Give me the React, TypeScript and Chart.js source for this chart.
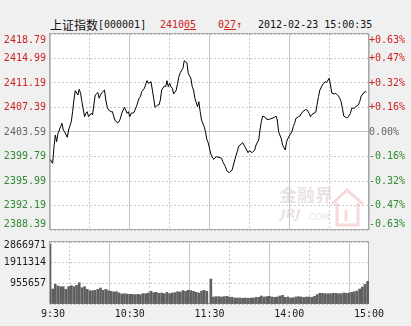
import React, { useEffect, useRef } from "react";
import { Chart, registerables } from "chart.js";

Chart.register(...registerables);

// ---------- data ----------
const priceTicks = [2418.79, 2414.99, 2411.19, 2407.39, 2403.59, 2399.79, 2395.99, 2392.19, 2388.39];
const priceTickLabels = ["2418.79", "2414.99", "2411.19", "2407.39", "2403.59", "2399.79", "2395.99", "2392.19", "2388.39"];
const pctTickLabels = ["+0.63%", "+0.47%", "+0.32%", "+0.16%", "0.00%", "-0.16%", "-0.32%", "-0.47%", "-0.63%"];
const prevClose = 2403.59;

const gridMinutes = [0, 30, 60, 90, 120, 150, 180, 210, 240];
const timeTickMinutes = [0, 60, 120, 180, 240];
const timeLabels = ["9:30", "10:30", "11:30", "14:00", "15:00"];

const volTicks = [0, 955657, 1911314, 2866971];
const volTickLabels = ["", "955657", "1911314", "2866971"];

// minutes since 9:30 (lunch break removed)
const priceMinutes = [
  0, 2, 3, 4, 5, 6, 8, 9, 10, 11,
  13, 14, 16, 17, 18, 19, 21, 22, 23, 24,
  26, 27, 28, 29, 31, 32, 33, 34, 36, 37,
  38, 39, 41, 42, 43, 44, 46, 47, 48, 49,
  51, 52, 53, 54, 56, 57, 58, 59, 60, 61,
  63, 65, 67, 68, 69, 71, 73, 74, 76, 77,
  78, 79, 81, 82, 83, 84, 86, 87, 88, 89,
  90, 91, 92, 93, 95, 96, 97, 98, 100, 101,
  102, 103, 104, 106, 107, 108, 109, 111, 112, 113,
  114, 116, 117, 118, 119, 121, 123, 124, 125, 127,
  129, 130, 132, 133, 135, 137, 139, 141, 142, 145,
  147, 149, 150, 152, 154, 155, 157, 158, 159, 160,
  162, 163, 165, 167, 169, 170, 171, 172, 174, 175,
  177, 178, 179, 180, 182, 183, 184, 185, 187, 188,
  190, 192, 193, 195, 196, 197, 200, 201, 202, 203,
  205, 206, 207, 208, 210, 211, 212, 214, 215, 217,
  218, 219, 220, 221, 223, 224, 226, 227, 229, 230,
  232, 233, 234, 236, 238,
];
const prices = [
  2399.36, 2398.73, 2401.31, 2403.12, 2402.09, 2403.39, 2404.41, 2404.94, 2403.90, 2403.64,
  2402.77, 2403.90, 2405.19, 2406.74, 2408.55, 2410.00, 2409.33, 2410.21, 2409.59, 2408.29,
  2405.96, 2406.49, 2406.74, 2405.96, 2406.49, 2406.23, 2407.78, 2409.33, 2409.69, 2408.82,
  2409.33, 2409.69, 2410.10, 2408.55, 2407.51, 2407.00, 2406.74, 2406.74, 2405.96, 2405.34,
  2405.03, 2405.19, 2405.71, 2406.49, 2407.42, 2407.00, 2406.49, 2406.74, 2405.96, 2406.49,
  2406.58, 2407.51, 2408.82, 2409.07, 2409.84, 2410.37, 2411.55, 2411.14, 2411.39, 2410.10,
  2408.82, 2407.42, 2407.78, 2407.78, 2408.55, 2410.10, 2410.72, 2410.62, 2411.55, 2410.62,
  2411.14, 2410.62, 2410.37, 2409.49, 2410.10, 2411.14, 2412.17, 2412.79, 2413.47, 2414.65,
  2414.49, 2414.34, 2412.69, 2411.92, 2410.62, 2410.10, 2408.82, 2407.51, 2408.29, 2406.74,
  2405.45, 2404.41, 2403.64, 2402.46, 2401.93, 2400.18, 2399.36, 2399.51, 2399.76, 2399.66,
  2399.55, 2398.98, 2398.20, 2397.58, 2397.27, 2397.70, 2399.25, 2400.67, 2401.39, 2401.93,
  2401.18, 2400.38, 2400.69, 2400.38, 2400.80, 2401.57, 2402.35, 2403.90, 2405.19, 2406.07,
  2405.87, 2405.56, 2405.56, 2405.71, 2405.87, 2406.07, 2405.45, 2403.64, 2402.54, 2401.57,
  2400.80, 2402.09, 2402.58, 2402.97, 2403.64, 2404.41, 2404.91, 2405.71, 2405.96, 2406.07,
  2406.74, 2407.00, 2407.11, 2406.49, 2405.96, 2406.30, 2406.69, 2407.92, 2409.07, 2410.10,
  2410.88, 2411.14, 2411.39, 2411.26, 2411.92, 2410.88, 2409.64, 2409.49, 2409.59, 2409.17,
  2408.82, 2408.29, 2407.27, 2406.07, 2405.81, 2405.81, 2406.49, 2407.27, 2407.31, 2407.50,
  2407.78, 2408.29, 2409.10, 2409.69, 2409.88,
];

// volume, one bar per two minutes
const volMorning = [
  2775000, 693600, 909000, 832000, 801000, 801000, 678000, 801000, 848000, 801000,
  863000, 986000, 755000, 801000, 678000, 617000, 617000, 632000, 678000, 740000,
  632000, 678000, 617000, 586000, 555000, 570000, 509000, 462000, 478000, 462000,
  447000, 447000, 432000, 447000, 432000, 478000, 478000, 509000, 586000, 524000,
  539000, 493000, 509000, 478000, 539000, 478000, 509000, 524000, 570000, 555000,
  617000, 586000, 632000, 617000, 586000, 539000, 509000, 601000, 632000, 586000,
];
const volAfternoon = [
  1156000, 324000, 339000, 339000, 324000, 339000, 355000, 324000, 308000, 277000,
  277000, 277000, 262000, 277000, 262000, 277000, 277000, 308000, 308000, 370000,
  324000, 339000, 355000, 324000, 308000, 324000, 370000, 401000, 308000, 324000,
  277000, 293000, 324000, 339000, 324000, 308000, 324000, 324000, 308000, 355000,
  432000, 493000, 493000, 478000, 478000, 478000, 493000, 493000, 478000, 478000,
  509000, 493000, 509000, 539000, 570000, 601000, 694000, 786000, 909000, 1050000,
];

// ---------- styles ----------
const MONO = "'DejaVu Sans Mono', monospace";
const RED = "#cc2222";
const GREEN = "#2f8a2f";
const GRAY = "#666666";
const GRID_SOLID = "#c4c4c4";
const GRID_DASH = "#c8c8c8";
const BORDER = "#a9a9a9";

const plotFrame = {
  id: "plotFrame",
  beforeDraw(chart: any) {
    const { ctx, chartArea: a } = chart;
    ctx.save();
    ctx.fillStyle = "#ffffff";
    ctx.fillRect(a.left, a.top, a.right - a.left, a.bottom - a.top);
    ctx.restore();
  },
  beforeDatasetsDraw(chart: any, _args: any, opts: any) {
    const { ctx, chartArea: a } = chart;
    ctx.save();
    if (opts && opts.watermark) {
      // JRJ watermark
      ctx.fillStyle = "rgba(215,200,200,0.5)";
      ctx.font = "bold 18px 'Noto Sans CJK SC'";
      ctx.textBaseline = "middle";
      ctx.textAlign = "left";
      ctx.fillText("金融界", 279, 195);
      ctx.font = "italic bold 13px 'DejaVu Sans'";
      ctx.fillText("JRJ", 281, 215);
      ctx.font = "italic 9px 'DejaVu Sans'";
      ctx.fillText(".COM", 306, 218);
      ctx.strokeStyle = "rgba(240,185,185,0.55)";
      ctx.lineWidth = 3;
      ctx.beginPath();
      ctx.moveTo(332, 204);
      ctx.lineTo(347, 190);
      ctx.lineTo(363, 204);
      ctx.moveTo(337, 203);
      ctx.lineTo(337, 225);
      ctx.lineTo(358, 225);
      ctx.lineTo(358, 203);
      ctx.moveTo(346, 210);
      ctx.lineTo(346, 221);
      ctx.stroke();
    }
    ctx.strokeStyle = BORDER;
    ctx.lineWidth = 1;
    ctx.strokeRect(Math.round(a.left) - 0.5, Math.round(a.top) - 0.5, Math.round(a.right - a.left), Math.round(a.bottom - a.top));
    ctx.restore();
  },
};

function xGridDash(ctx: any) {
  const v = ctx.tick ? ctx.tick.value : 0;
  return v % 60 === 0 ? [] : [2, 2];
}
function xGridColor(ctx: any) {
  const v = ctx.tick ? ctx.tick.value : 0;
  return v % 60 === 0 ? GRID_SOLID : GRID_DASH;
}

function priceColor(i: number) {
  const v = priceTicks[i];
  if (Math.abs(v - prevClose) < 1e-6) return GRAY;
  return v > prevClose ? RED : GREEN;
}

const fitV = (w: number) => (s: any) => {
  s.width = w;
  s.paddingTop = 0;
  s.paddingBottom = 0;
};
const fitH = (h: number) => (s: any) => {
  s.height = h;
  s.paddingLeft = 0;
  s.paddingRight = 0;
};

export default function App() {
  const priceRef = useRef<HTMLCanvasElement>(null);
  const volRef = useRef<HTMLCanvasElement>(null);

  useEffect(() => {
    const last = priceTicks.length - 1;
    const priceChart = new Chart(priceRef.current as HTMLCanvasElement, {
      type: "line",
      data: {
        datasets: [
          {
            data: priceMinutes.map((m, i) => ({ x: m, y: prices[i] })),
            borderColor: "#000000",
            borderWidth: 1,
            pointRadius: 0,
            tension: 0,
            fill: false,
            yAxisID: "y",
          },
        ],
      },
      options: {
        animation: false,
        responsive: false,
        devicePixelRatio: 1,
        layout: { padding: { top: 34, left: 0, right: 0, bottom: 0 } },
        plugins: { legend: { display: false }, tooltip: { enabled: false }, plotFrame: { watermark: true } } as any,
        scales: {
          x: {
            type: "linear",
            min: 0,
            max: 240,
            afterBuildTicks: (s: any) => {
              s.ticks = gridMinutes.map((v) => ({ value: v }));
            },
            afterFit: fitH(10),
            ticks: { display: false },
            grid: { color: xGridColor, drawTicks: false, lineWidth: 1 },
            border: { display: false, dash: xGridDash },
          },
          y: {
            position: "left",
            min: 2388.39,
            max: 2418.79,
            afterBuildTicks: (s: any) => {
              s.ticks = priceTicks.map((v) => ({ value: v }));
            },
            afterFit: fitV(50),
            ticks: {
              autoSkip: false,
              padding: 4,
              font: { family: MONO, size: 10 },
              color: (c: any) => priceColor(c.index),
              callback: (_v: any, i: number) =>
                i === 0 ? ["", priceTickLabels[i]] : i === last ? [priceTickLabels[i], ""] : priceTickLabels[i],
            },
            grid: {
              drawTicks: false,
              color: (c: any) => (c.index === 4 ? GRID_SOLID : GRID_DASH),
            },
            border: { display: false, dash: (c: any) => (c.index === 4 ? [] : [2, 2]) },
          },
          y2: {
            position: "right",
            min: 2388.39,
            max: 2418.79,
            afterBuildTicks: (s: any) => {
              s.ticks = priceTicks.map((v) => ({ value: v }));
            },
            afterFit: fitV(42),
            ticks: {
              autoSkip: false,
              padding: 0,
              font: { family: MONO, size: 10 },
              color: (c: any) => priceColor(c.index),
              callback: (_v: any, i: number) =>
                i === 0 ? ["", pctTickLabels[i]] : i === last ? [pctTickLabels[i], ""] : pctTickLabels[i],
            },
            grid: { display: false, drawTicks: false },
            border: { display: false },
          },
        },
      } as any,
      plugins: [plotFrame],
    });

    const volTimes = [
      ...volMorning.map((_, i) => i * 2),
      ...volAfternoon.map((_, i) => 121 + i * 2),
    ];
    const vols = [...volMorning, ...volAfternoon];

    const volChart = new Chart(volRef.current as HTMLCanvasElement, {
      type: "bar",
      data: {
        datasets: [
          {
            data: volTimes.map((m, i) => ({ x: m, y: vols[i] })),
            backgroundColor: "#5f5f5f",
            borderWidth: 0,
            barThickness: 2,
          },
        ],
      },
      options: {
        animation: false,
        responsive: false,
        devicePixelRatio: 1,
        layout: { padding: { top: 6, left: 0, right: 42, bottom: 0 } },
        plugins: { legend: { display: false }, tooltip: { enabled: false }, plotFrame: { watermark: false } } as any,
        scales: {
          x: {
            type: "linear",
            min: 0,
            max: 240,
            offset: false,
            afterBuildTicks: (s: any) => {
              s.ticks = gridMinutes.map((v) => ({ value: v }));
            },
            afterFit: fitH(22),
            ticks: {
              autoSkip: false,
              maxRotation: 0,
              padding: 4,
              font: { family: MONO, size: 10 },
              color: "#1a1a1a",
              callback: (v: any) => {
                const k = timeTickMinutes.indexOf(v);
                return k >= 0 ? timeLabels[k].padStart(5, " ") : "";
              },
            },
            grid: { color: xGridColor, drawTicks: false },
            border: { display: false, dash: xGridDash },
          },
          y: {
            min: 0,
            max: 2866971,
            afterBuildTicks: (s: any) => {
              s.ticks = volTicks.map((v) => ({ value: v }));
            },
            afterFit: fitV(50),
            ticks: {
              autoSkip: false,
              padding: 4,
              font: (c: any) => ({ family: MONO, size: 10, lineHeight: c.index === 3 ? 0.6 : 1.2 }),
              color: "#1a1a1a",
              callback: (_v: any, i: number) => (i === 3 ? ["", volTickLabels[i]] : volTickLabels[i]),
            },
            grid: { drawTicks: false, color: GRID_DASH },
            border: { display: false, dash: [2, 2] },
          },
        },
      } as any,
      plugins: [plotFrame],
    });

    return () => {
      priceChart.destroy();
      volChart.destroy();
    };
  }, []);

  const base: React.CSSProperties = {
    position: "absolute",
    top: 19,
    height: 12,
    lineHeight: "12px",
    fontFamily: MONO,
    fontSize: 10,
    whiteSpace: "pre",
  };

  return (
    <div
      style={{
        position: "absolute",
        left: 0,
        top: 0,
        width: 411,
        height: 326,
        background: "#f0f0f0",
        overflow: "hidden",
      }}
    >
      <span style={{ ...base, left: 50, fontFamily: "'Noto Sans CJK SC'", fontSize: 12, color: "#111" }}>上证指数</span>
      <span style={{ ...base, left: 98, color: "#111" }}>[000001]</span>
      <span style={{ ...base, left: 160, color: RED }}>
        2410<span style={{ textDecoration: "underline" }}>05</span>
      </span>
      <span style={{ ...base, left: 218, color: RED }}>
        0<span style={{ textDecoration: "underline" }}>27</span>↑
      </span>
      <span style={{ ...base, left: 258, color: "#111" }}>2012-02-23 15:00:35</span>
      <canvas
        ref={priceRef}
        width={411}
        height={240}
        style={{ position: "absolute", left: 0, top: 0, width: 411, height: 240 }}
      />
      <canvas
        ref={volRef}
        width={411}
        height={90}
        style={{ position: "absolute", left: 0, top: 236, width: 411, height: 90 }}
      />
    </div>
  );
}
